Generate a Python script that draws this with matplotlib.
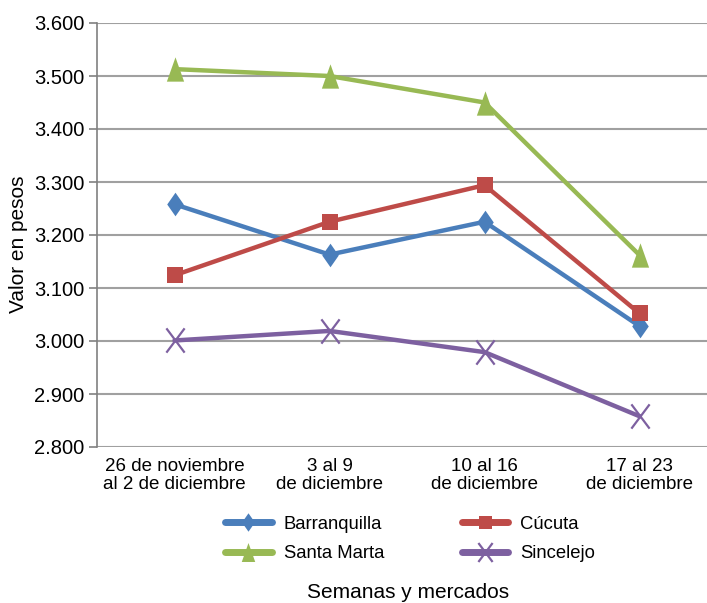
import matplotlib
matplotlib.use("Agg")
import matplotlib.pyplot as plt
from matplotlib.ticker import FuncFormatter
from matplotlib.path import Path
from matplotlib.lines import Line2D

plt.rcParams['font.family'] = ['Liberation Sans', 'DejaVu Sans']

categories = ["26 de noviembre\nal 2 de diciembre", "3 al 9\nde diciembre",
              "10 al 16\nde diciembre", "17 al 23\nde diciembre"]
barranquilla = [3258, 3163, 3225, 3028]
cucuta = [3124, 3225, 3294, 3052]
santa_marta = [3513, 3500, 3450, 3162]
sincelejo = [3001, 3019, 2979, 2858]
yticks = [2800, 2900, 3000, 3100, 3200, 3300, 3400, 3500, 3600]

diamond = Path([(0, 1), (0.7, 0), (0, -1), (-0.7, 0), (0, 1)],
               [Path.MOVETO, Path.LINETO, Path.LINETO, Path.LINETO, Path.CLOSEPOLY])
triangle = Path([(0, 1), (-0.71, -1), (0.71, -1), (0, 1)],
                [Path.MOVETO, Path.LINETO, Path.LINETO, Path.CLOSEPOLY])
square = "s"
xmark = Path([(-0.75, -1), (0.75, 1), (-0.75, 1), (0.75, -1)],
             [Path.MOVETO, Path.LINETO, Path.MOVETO, Path.LINETO])

W, H = 707, 603
fig = plt.figure(figsize=(W/100, H/100), dpi=100)
ax = fig.add_axes([97/W, 1-447/H, (707-97)/W, (447-23)/H])

x = list(range(len(categories)))
series = [
    ("Barranquilla", barranquilla, "#4A7EBB", diamond, 17, False),
    ("Cúcuta", cucuta, "#BE4B48", square, 12, False),
    ("Santa Marta", santa_marta, "#98B954", triangle, 17.5, False),
    ("Sincelejo", sincelejo, "#7D60A0", xmark, 17.5, True),
]
handles = {}
for name, vals, col, m, ms, unfilled in series:
    if unfilled:
        kw = dict(markeredgewidth=1.6, markerfacecolor='none')
    else:
        kw = dict(markeredgewidth=0, markerfacecolor=col)
    ax.plot(x, vals, color=col, lw=3.2, marker=m, markersize=ms,
            markeredgecolor=col, solid_capstyle='round', zorder=3, **kw)
    handles[name] = Line2D([], [], color=col, lw=5, marker=m, markersize=ms*0.78,
                           markeredgecolor=col, solid_capstyle='round',
                           **(dict(markeredgewidth=1.6, markerfacecolor='none') if unfilled
                              else dict(markeredgewidth=0, markerfacecolor=col)))

ax.set_ylim(2800, 3600)
ax.set_xlim(-0.5, 3.435)
ax.set_yticks(yticks)
ax.yaxis.set_major_formatter(FuncFormatter(lambda v, p: f"{v/1000:.3f}"))
ax.set_xticks(x)
ax.set_xticklabels(categories, fontsize=13.5, linespacing=1.1)
ax.tick_params(axis='y', labelsize=14.5, length=6, color='#808080', width=1.2, pad=3)
ax.tick_params(axis='x', length=0, pad=8)
ax.grid(axis='y', color='#A0A0A0', lw=1.5)
ax.set_axisbelow(True)
for s in ['top', 'right', 'bottom']:
    ax.spines[s].set_visible(False)
ax.spines['left'].set_color('#808080')
ax.spines['left'].set_linewidth(1.2)

fig.text(19/W, 1-244/H, "Valor en pesos", rotation=90, ha='center', va='center', fontsize=15)
fig.text(408/W, 1-592/H, "Semanas y mercados", ha='center', va='center', fontsize=15)

order = ["Barranquilla", "Santa Marta", "Cúcuta", "Sincelejo"]
leg = fig.legend([handles[n] for n in order], order, ncol=2,
                 loc='center', bbox_to_anchor=(410/W, 1-539/H), frameon=False,
                 fontsize=13.3, handlelength=2.5, columnspacing=4.2,
                 labelspacing=0.68, handletextpad=0.65)

fig.savefig("out.png", dpi=100)
